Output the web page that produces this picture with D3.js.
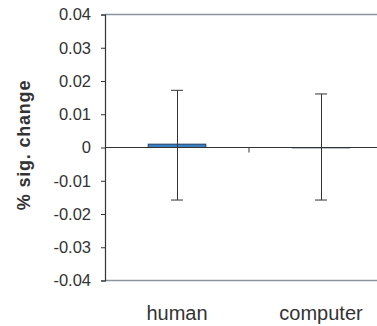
<!DOCTYPE html>
<html>
<head>
<meta charset="utf-8">
<script src="https://cdn.jsdelivr.net/npm/d3@7"></script>
<style>
  html, body { margin: 0; padding: 0; background: #fff; }
  svg { display: block; }
  text { font-family: "Liberation Sans", Arial, sans-serif; fill: #333; }
</style>
</head>
<body>
<svg id="chart" width="377" height="326"></svg>
<script>
// Mean signal change per condition, with error-bar extents
const categories = ["human", "computer"];
const means = [0.0010, -0.0001];
const errUpper = [0.0172, 0.0161];
const errLower = [-0.0158, -0.0158];
const yTicks = [0.04, 0.03, 0.02, 0.01, 0, -0.01, -0.02, -0.03, -0.04];
const yTickLabels = ["0.04", "0.03", "0.02", "0.01", "0", "-0.01", "-0.02", "-0.03", "-0.04"];

const svg = d3.select("#chart");
const plotLeft = 105, plotRight = 393, plotTop = 14.5, plotBottom = 280.5;

const y = d3.scaleLinear().domain([-0.04, 0.04]).range([plotBottom, plotTop]);
const x = d3.scaleBand().domain(categories).range([plotLeft, plotRight]).paddingInner(0).paddingOuter(0);
const barW = x.bandwidth() * 0.4;

// Plot-area border lines at top and bottom
svg.append("line").attr("x1", plotLeft).attr("x2", plotRight)
  .attr("y1", y(0.04)).attr("y2", y(0.04))
  .attr("stroke", "#8a959b").attr("stroke-width", 1.3);
svg.append("line").attr("x1", plotLeft).attr("x2", plotRight)
  .attr("y1", y(-0.04)).attr("y2", y(-0.04))
  .attr("stroke", "#8a959b").attr("stroke-width", 1.3);

// Bars
svg.selectAll("rect.bar").data(categories).enter().append("rect")
  .attr("class", "bar")
  .attr("x", d => x(d) + (x.bandwidth() - barW) / 2)
  .attr("width", barW)
  .attr("y", (d, i) => y(Math.max(0, means[i])))
  .attr("height", (d, i) => Math.abs(y(means[i]) - y(0)))
  .attr("fill", "#3b80c4")
  .attr("stroke", "#1f3f5e")
  .attr("stroke-width", 1);

// Y axis
const yAxis = d3.axisLeft(y).tickValues(yTicks)
  .tickFormat((d, i) => yTickLabels[i]).tickSize(4).tickPadding(10);
const gy = svg.append("g").attr("transform", `translate(${plotLeft},0)`).call(yAxis);
gy.select(".domain").attr("stroke", "#333").attr("stroke-width", 1.2);
gy.selectAll(".tick line").attr("stroke", "#333");
gy.selectAll(".tick text").attr("font-size", 16.5).attr("fill", "#333")
  .style("font-family", "'Liberation Sans', Arial, sans-serif");

// X axis along zero, with category divider ticks
svg.append("line").attr("x1", plotLeft).attr("x2", plotRight)
  .attr("y1", y(0)).attr("y2", y(0))
  .attr("stroke", "#333").attr("stroke-width", 1.2);
const dividers = categories.slice(1).map(c => x(c));
svg.selectAll("line.divider").data(dividers).enter().append("line")
  .attr("class", "divider")
  .attr("x1", d => d).attr("x2", d => d)
  .attr("y1", y(0)).attr("y2", y(0) + 5)
  .attr("stroke", "#333").attr("stroke-width", 1);

// Error bars
const eb = svg.selectAll("g.err").data(categories).enter().append("g").attr("class", "err");
eb.append("line")
  .attr("x1", d => x(d) + x.bandwidth() / 2 + 0.5)
  .attr("x2", d => x(d) + x.bandwidth() / 2 + 0.5)
  .attr("y1", (d, i) => y(errUpper[i]))
  .attr("y2", (d, i) => y(errLower[i]))
  .attr("stroke", "#333").attr("stroke-width", 1);
[errUpper, errLower].forEach(arr => {
  eb.append("line")
    .attr("x1", d => x(d) + x.bandwidth() / 2 - 6)
    .attr("x2", d => x(d) + x.bandwidth() / 2 + 6)
    .attr("y1", (d, i) => y(arr[i]))
    .attr("y2", (d, i) => y(arr[i]))
    .attr("stroke", "#333").attr("stroke-width", 1);
});

// Category labels
svg.selectAll("text.cat").data(categories).enter().append("text")
  .attr("class", "cat")
  .attr("x", d => x(d) + x.bandwidth() / 2)
  .attr("y", 320)
  .attr("text-anchor", "middle")
  .attr("font-size", 20)
  .text(d => d);

// Y axis title
svg.append("text")
  .attr("transform", "translate(30,145) rotate(-90)")
  .attr("text-anchor", "middle")
  .attr("font-size", 18)
  .attr("font-weight", "bold")
  .attr("letter-spacing", "0.8px")
  .text("% sig. change");
</script>
</body>
</html>
